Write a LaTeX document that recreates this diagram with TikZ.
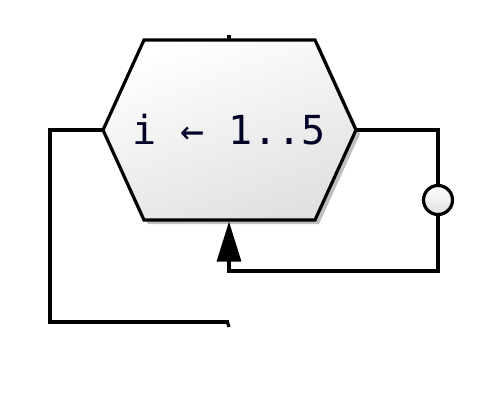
\documentclass[tikz,border=0pt]{standalone}
\usepackage{fontspec}
\newfontfamily\codefont{DejaVu Sans Mono}
\usetikzlibrary{arrows.meta}
\tikzset{
  wire/.style={line width=3.2pt, line join=miter, line cap=butt},
  hexfill/.style={top color=white, bottom color=black!12, shading angle=20},
  shadowfill/.style={fill=black!25},
  joint/.style={circle, draw, line width=3.2pt, minimum size=29pt, inner sep=0pt, top color=white, bottom color=black!12}
}
\begin{document}
\begin{tikzpicture}[x=1pt,y=1pt]
\useasboundingbox (0,0) rectangle (484,410);
% hexagon corners
\coordinate (L) at (103,280);
\coordinate (R) at (356,280);
\coordinate (TL) at (144,370);
\coordinate (TR) at (315,370);
\coordinate (BL) at (144,190);
\coordinate (BR) at (315,190);
\coordinate (T) at (229,370);
\coordinate (B) at (229,190);
% shadow
\fill[shadowfill] ([shift={(4,-4)}]L) -- ([shift={(4,-4)}]TL) -- ([shift={(4,-4)}]TR) -- ([shift={(4,-4)}]R) -- ([shift={(4,-4)}]BR) -- ([shift={(4,-4)}]BL) -- cycle;
% hexagon
\shade[hexfill] (L) -- (TL) -- (TR) -- (R) -- (BR) -- (BL) -- cycle;
\draw[wire] (L) -- (TL) -- (TR) -- (R) -- (BR) -- (BL) -- cycle;
\node[font=\codefont\fontsize{40}{42}\selectfont, text=black!85!blue] (label) at (229,280) {i ← 1..5};
% top stub
\coordinate (Tstub) at (229,375);
\draw[wire] (T) -- (Tstub);
% left loop
\coordinate (l1) at (50,280);
\coordinate (l2) at (50,88);
\coordinate (l3) at (229,88);
\coordinate (l4) at (229,83);
\draw[wire] (L) -- (l1) -- (l2) -- (l3);
\draw[wire] ([xshift=-1.6pt]l3) -- (l3 |- l4);
% right loop
\node[joint] (c) at (438,210) {};
\coordinate (r1) at (438,280);
\coordinate (r2) at (438,139);
\coordinate (r3) at (229,139);
\draw[wire] (R) -- (r1) -- (c.north);
\draw[wire, -{Triangle[length=40pt,width=24pt]}] (c.south) -- (r2) -- (r3) -- ([yshift=-1.5pt]B);
\end{tikzpicture}
\end{document}
